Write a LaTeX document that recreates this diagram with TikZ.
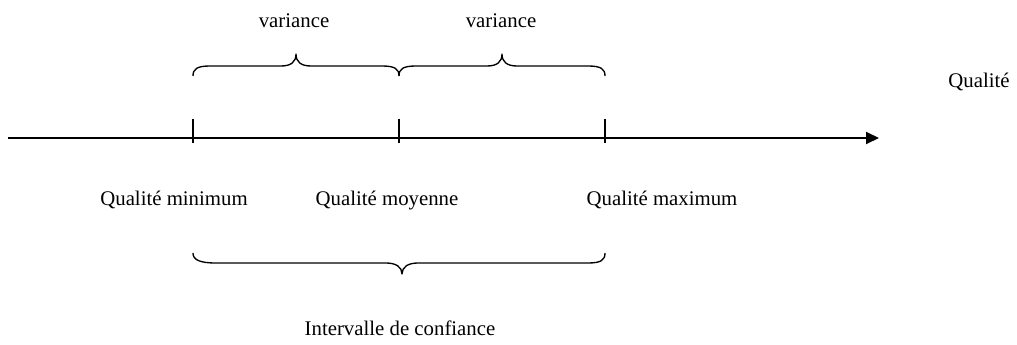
\documentclass[tikz,border=0pt]{standalone}
\usepackage{fontspec}
\setmainfont{Liberation Serif}
\usetikzlibrary{arrows.meta}
\begin{document}
\begin{tikzpicture}[x=0.75pt,y=-0.75pt,
  lbl/.style={anchor=base,inner sep=0pt,font=\fontsize{15.6}{18}\selectfont},
  axisline/.style={line width=1.5pt,-{Triangle[length=9.75pt,width=9pt]}},
  tickline/.style={line width=0.8pt},
  bracepath/.style={line width=1pt,line join=round}]
\useasboundingbox (0,0) rectangle (1017,345);
% axis
\coordinate (axstart) at (8,138);
\coordinate (axend) at (879,138);
\draw[axisline] (axstart) -- (axend);
% ticks
\coordinate (tminT) at (193,119);
\coordinate (tminB) at (193,143);
\coordinate (tmoyT) at (399,119);
\coordinate (tmoyB) at (399,143);
\coordinate (tmaxT) at (605,119);
\coordinate (tmaxB) at (605,143);
\draw[tickline] (tminT) -- (tminB);
\draw[tickline] (tmoyT) -- (tmoyB);
\draw[tickline] (tmaxT) -- (tmaxB);
% top braces
\draw[bracepath] (193,76) .. controls (193,69) and (197,66) .. (210,66) -- (281,66)
  .. controls (291,66) and (296,62) .. (296,54)
  .. controls (296,62) and (301,66) .. (311,66) -- (382,66)
  .. controls (395,66) and (399,69) .. (399,76);
\draw[bracepath] (399,76) .. controls (399,69) and (403,66) .. (416,66) -- (487,66)
  .. controls (497,66) and (502,62) .. (502,54)
  .. controls (502,62) and (507,66) .. (517,66) -- (588,66)
  .. controls (601,66) and (605,69) .. (605,76);
% bottom brace
\draw[bracepath] (193,253) .. controls (193,260) and (200,263) .. (216,263) -- (386,263)
  .. controls (396,263) and (402,267) .. (402,274)
  .. controls (402,267) and (408,263) .. (418,263) -- (588,263)
  .. controls (601,263) and (605,260) .. (605,253);
% labels
\node[lbl] (var1) at (294,28) {variance};
\node[lbl] (var2) at (501,28) {variance};
\node[lbl] (qual) at (979,88) {Qualité};
\node[lbl] (qmin) at (174,206) {Qualité minimum};
\node[lbl] (qmoy) at (387,206) {Qualité moyenne};
\node[lbl] (qmax) at (662,206) {Qualité maximum};
\node[lbl] (ic) at (400,335) {Intervalle de confiance};
\end{tikzpicture}
\end{document}
